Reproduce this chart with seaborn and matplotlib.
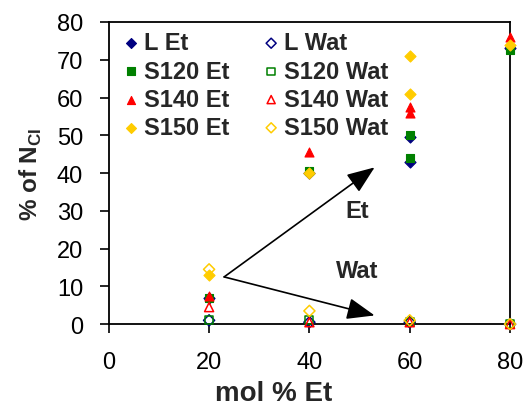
import numpy as np
import pandas as pd
import matplotlib
matplotlib.use('Agg')
import matplotlib.pyplot as plt
import seaborn as sns

# Data (mol % Et vs % of N_CI)
x_et = [20, 40, 60, 60, 80]
l_et = [7.0, 40.0, 49.5, 43.0, 73.0]
s120_et = [7.0, 40.5, 50.0, 44.0, 72.5]
s140_et = [7.5, 45.5, 57.5, 56.0, 76.0]
s150_et = [13.0, 40.0, 71.0, 61.0, 74.0]

x_wat = [20, 40, 60, 80]
l_wat = [1.0, 0.5, 0.5, 0.0]
s120_wat = [1.0, 1.0, 0.5, 0.0]
s140_wat = [4.5, 0.5, 0.5, 0.0]
s150_wat = [14.5, 3.5, 1.0, 0.0]

# legend fills column by column, so Et series first, then Wat series
series = [
    ('L Et', x_et, l_et, '#000080', 'D', True),
    ('S120 Et', x_et, s120_et, '#008000', 's', True),
    ('S140 Et', x_et, s140_et, '#FF0000', '^', True),
    ('S150 Et', x_et, s150_et, '#FFCC00', 'D', True),
    ('L Wat', x_wat, l_wat, '#000080', 'D', False),
    ('S120 Wat', x_wat, s120_wat, '#008000', 's', False),
    ('S140 Wat', x_wat, s140_wat, '#FF0000', '^', False),
    ('S150 Wat', x_wat, s150_wat, '#FFCC00', 'D', False),
]

sns.set_style('ticks')
plt.rcParams['font.family'] = ['Liberation Sans', 'DejaVu Sans']
plt.rcParams['mathtext.fontset'] = 'custom'
plt.rcParams['mathtext.bf'] = 'Liberation Sans:bold'
plt.rcParams['mathtext.rm'] = 'Liberation Sans'

fig = plt.figure(figsize=(5.28, 4.10), dpi=100)
ax = fig.add_axes([0.206, 0.207, 0.76, 0.737])

sizes = {'D': 32, 's': 34, '^': 42}
for label, xs, ys, color, marker, filled in series:
    df = pd.DataFrame({'x': xs, 'y': ys})
    if filled:
        sns.scatterplot(data=df, x='x', y='y', marker=marker, s=sizes[marker],
                        color=color, edgecolor=color, linewidth=0.8,
                        label=label, ax=ax, clip_on=False, zorder=3)
    else:
        sns.scatterplot(data=df, x='x', y='y', marker=marker, s=sizes[marker],
                        facecolor='none', edgecolor=color, linewidth=1.1,
                        label=label, ax=ax, clip_on=False, zorder=3)

# arrows and annotations
for tip in [(53, 41.5), (53, 2.3)]:
    ax.annotate('', xy=tip, xytext=(23, 12.5),
                arrowprops=dict(arrowstyle='-|>,head_length=0.9,head_width=0.35',
                                color='black', lw=1.2, mutation_scale=19,
                                shrinkA=0, shrinkB=0))
ax.text(49.5, 30, 'Et', fontsize=17, fontweight='bold', ha='center', va='center')
ax.text(49.5, 14.3, 'Wat', fontsize=17, fontweight='bold', ha='center', va='center')

ax.set_xlim(0, 80)
ax.set_ylim(0, 80)
ax.set_xticks([0, 20, 40, 60, 80])
ax.set_yticks(np.arange(0, 81, 10))
ax.tick_params(axis='both', direction='out', length=6.5, width=1.2,
               labelsize=17, colors='black', top=False, right=False)
ax.tick_params(axis='y', pad=12)
ax.tick_params(axis='x', pad=13)
for sp in ax.spines.values():
    sp.set_visible(True)
    sp.set_color('black')
    sp.set_linewidth(1.3)

ax.set_xlabel('mol % Et', fontsize=20, fontweight='bold', labelpad=0)
ax.xaxis.set_label_coords(0.41, -0.185)
ax.set_ylabel(r'% of N$_{\mathbf{CI}}$', fontsize=17.5, fontweight='bold', labelpad=9)

leg = ax.legend(loc='upper left', bbox_to_anchor=(0.018, 1.0), ncol=2,
                frameon=False, fontsize=17, handlelength=0.5, markerscale=0.9,
                handletextpad=0.3, labelspacing=0.22, columnspacing=1.5,
                borderaxespad=0.0)
for t in leg.get_texts():
    t.set_fontweight('bold')

fig.savefig('out.png', dpi=100)
